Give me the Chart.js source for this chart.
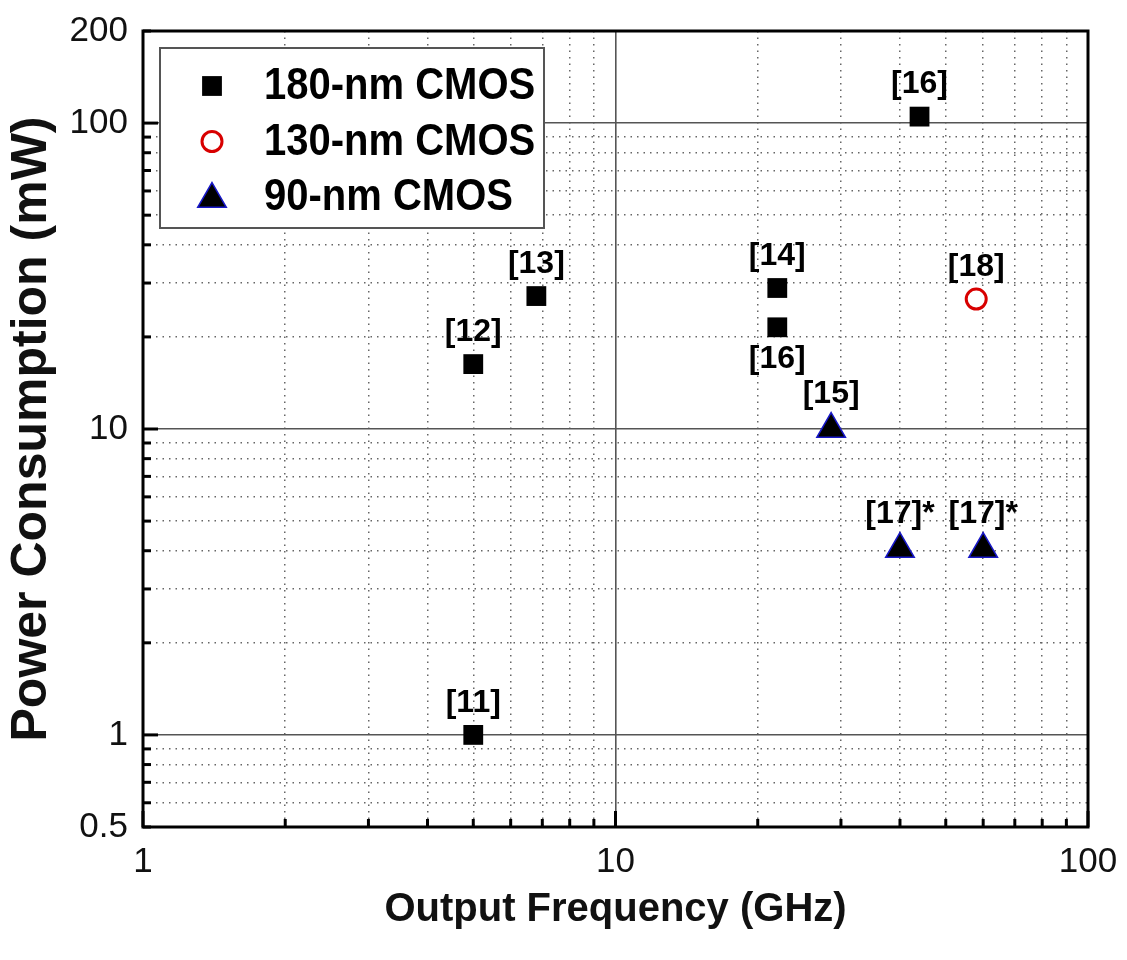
<!DOCTYPE html>
<html>
<head>
<meta charset="utf-8">
<title>Power Consumption vs Output Frequency</title>
<script src="https://cdn.jsdelivr.net/npm/chart.js@4.4.1/dist/chart.umd.min.js"></script>
<style>
  body { margin: 0; background: #fff; }
  #wrap { width: 1127px; height: 960px; }
</style>
</head>
<body>
<div id="wrap"><canvas id="cPower" width="1127" height="960"></canvas></div>
<script>
// frequency (GHz) / power (mW) per CMOS node, with reference numbers
var cmos180Freq = [5, 5, 6.8, 22, 22, 44];
var cmos180Power = [1, 16.3, 27.2, 28.9, 21.5, 105];
var cmos180Refs = ["[11]", "[12]", "[13]", "[14]", "[16]", "[16]"];

var cmos130Freq = [58];
var cmos130Power = [26.6];
var cmos130Refs = ["[18]"];

var cmos90Freq = [28.6, 40, 60];
var cmos90Power = [10, 4.05, 4.05];
var cmos90Refs = ["[15]", "[17]*", "[17]*"];

var seriesNames = ["180-nm CMOS", "130-nm CMOS", "90-nm CMOS"];

// labelled ticks on each log axis
var xTickLabels = [1, 10, 100];
var yTickLabels = [0.5, 1, 10, 100, 200];

var FONT = '"Liberation Sans", Arial, Helvetica, sans-serif';

function toPts(xs, ys) {
    var out = [];
    for (var i = 0; i < xs.length; i++) out.push({ x: xs[i], y: ys[i] });
    return out;
}

function isDecade(v) {
    var l = Math.log10(v);
    return Math.abs(l - Math.round(l)) < 1e-9;
}

// 1..9 x 10^n between min and max
function logTicks(min, max) {
    var t = [];
    for (var e = Math.floor(Math.log10(min)); e <= Math.ceil(Math.log10(max)); e++) {
        for (var m = 1; m <= 9; m++) {
            var v = +(m * Math.pow(10, e)).toPrecision(6);
            if (v >= min - 1e-9 && v <= max + 1e-9) t.push(v);
        }
    }
    if (t.indexOf(min) < 0) t.unshift(min);
    if (t.indexOf(max) < 0) t.push(max);
    return t;
}

// labels may hang over the plot edges, the layout padding takes care of it
function noEdgePadding(s) {
    s.paddingTop = 0; s.paddingBottom = 0;
    s.paddingLeft = 0; s.paddingRight = 0;
}

var gridOpts = {
    drawTicks: false,
    color: function (c) { return c.tick && isDecade(c.tick.value) ? "#555" : "#666"; },
    lineWidth: function (c) { return c.tick && isDecade(c.tick.value) ? 1.6 : 1.5; }
};
var borderOpts = {
    display: false,
    dash: function (c) { return c.tick && !isDecade(c.tick.value) ? [1.5, 5] : []; }
};

// ref labels over each point; put it under when a point of the same
// series sits just above (so the two labels don't collide)
var refLabels = {
    id: "refLabels",
    afterDatasetsDraw: function (chart) {
        var ctx = chart.ctx;
        ctx.save();
        ctx.font = "bold 32px " + FONT;
        ctx.fillStyle = "#000";
        ctx.textAlign = "center";
        ctx.textBaseline = "middle";
        chart.data.datasets.forEach(function (ds, di) {
            var meta = chart.getDatasetMeta(di);
            meta.data.forEach(function (pt, i) {
                var below = false;
                meta.data.forEach(function (o, j) {
                    if (j != i && Math.abs(o.x - pt.x) < 2 && o.y < pt.y && pt.y - o.y < 80) below = true;
                });
                var off = Math.max(ds.pointRadius, 14) + 18;
                ctx.fillText(ds.refs[i], pt.x, below ? pt.y + off : pt.y - off);
            });
        });
        ctx.restore();
    }
};

// black frame, inward tick marks and the boxed legend
var frameAndLegend = {
    id: "frameAndLegend",
    afterDraw: function (chart) {
        var ctx = chart.ctx, a = chart.chartArea;
        var xs = chart.scales.x, ys = chart.scales.y;
        ctx.save();
        ctx.strokeStyle = "#000";
        ctx.lineWidth = 3;
        ys.ticks.forEach(function (t) {
            var py = ys.getPixelForValue(t.value);
            var len = isDecade(t.value) ? 15 : 8;
            ctx.beginPath(); ctx.moveTo(a.left, py); ctx.lineTo(a.left + len, py); ctx.stroke();
        });
        xs.ticks.forEach(function (t) {
            var px = xs.getPixelForValue(t.value);
            var len = isDecade(t.value) ? 16 : 8;
            ctx.beginPath(); ctx.moveTo(px, a.bottom); ctx.lineTo(px, a.bottom - len); ctx.stroke();
        });
        ctx.strokeRect(a.left, a.top, a.right - a.left, a.bottom - a.top);

        // legend
        var lx = a.left + 17, ly = a.top + 17, lw = 384, lh = 180;
        ctx.fillStyle = "#fff";
        ctx.fillRect(lx, ly, lw, lh);
        ctx.lineWidth = 2;
        ctx.strokeStyle = "#555";
        ctx.strokeRect(lx, ly, lw, lh);
        ctx.font = "bold 40px " + FONT;
        ctx.textAlign = "left";
        ctx.textBaseline = "middle";
        chart.data.datasets.forEach(function (ds, i) {
            var cy = ly + 38 + i * 55.5;
            // drawPoint fills/strokes with whatever is set on ctx
            ctx.fillStyle = ds.backgroundColor;
            ctx.strokeStyle = ds.borderColor;
            ctx.lineWidth = ds.borderWidth;
            Chart.helpers.drawPoint(ctx, {
                pointStyle: ds.pointStyle,
                radius: ds.pointRadius,
                borderWidth: ds.borderWidth,
                rotation: 0
            }, lx + 52, ds.pointStyle == "triangle" ? cy + 2 : cy);
            // slightly tall type, as in the legend of the original plot
            ctx.save();
            ctx.translate(lx + 104, cy + 1);
            ctx.scale(1, 1.1);
            ctx.fillStyle = "#000";
            ctx.fillText(ds.label, 0, 0);
            ctx.restore();
        });
        ctx.restore();
    }
};

var chart = new Chart(document.getElementById("cPower"), {
    type: "scatter",
    data: {
        datasets: [
            { label: seriesNames[0], data: toPts(cmos180Freq, cmos180Power), refs: cmos180Refs,
              pointStyle: "rect", pointRadius: 14, backgroundColor: "#000", borderColor: "#000", borderWidth: 0 },
            { label: seriesNames[1], data: toPts(cmos130Freq, cmos130Power), refs: cmos130Refs,
              pointStyle: "circle", pointRadius: 10, backgroundColor: "#fff", borderColor: "#d80000", borderWidth: 3 },
            { label: seriesNames[2], data: toPts(cmos90Freq, cmos90Power), refs: cmos90Refs,
              pointStyle: "triangle", pointRadius: 16.5, backgroundColor: "#000", borderColor: "#1818c8", borderWidth: 1.5 }
        ]
    },
    options: {
        responsive: false,
        animation: false,
        events: [],
        layout: { padding: { left: 0, top: 31, right: 39, bottom: 0 } },
        plugins: { legend: { display: false }, tooltip: { enabled: false } },
        scales: {
            x: {
                type: "logarithmic",
                min: xTickLabels[0],
                max: xTickLabels[xTickLabels.length - 1],
                afterBuildTicks: function (s) {
                    s.ticks = logTicks(s.min, s.max).map(function (v) { return { value: v }; });
                },
                afterFit: function (s) { s.height = 133; noEdgePadding(s); },
                ticks: {
                    autoSkip: false, maxRotation: 0, padding: 14,
                    color: "#111", font: { family: FONT, size: 35 },
                    callback: function (v) { return xTickLabels.indexOf(v) >= 0 ? String(v) : ""; }
                },
                grid: gridOpts,
                border: borderOpts,
                title: {
                    display: true, text: "Output Frequency (GHz)", color: "#111",
                    font: { family: FONT, size: 40, weight: "bold" }, padding: { top: 0, bottom: 26 }
                }
            },
            y: {
                type: "logarithmic",
                min: yTickLabels[0],
                max: yTickLabels[yTickLabels.length - 1],
                afterBuildTicks: function (s) {
                    s.ticks = logTicks(s.min, s.max).map(function (v) { return { value: v }; });
                },
                afterFit: function (s) { s.width = 143; noEdgePadding(s); },
                ticks: {
                    autoSkip: false, padding: 15,
                    color: "#111", font: { family: FONT, size: 35 },
                    callback: function (v) { return yTickLabels.indexOf(v) >= 0 ? String(v) : ""; }
                },
                grid: gridOpts,
                border: borderOpts,
                title: {
                    display: true, text: "Power Consumption (mW)", color: "#111",
                    font: { family: FONT, size: 50, weight: "bold" }, padding: { top: 2, bottom: 0 }
                }
            }
        }
    },
    plugins: [refLabels, frameAndLegend]
});
</script>
</body>
</html>
